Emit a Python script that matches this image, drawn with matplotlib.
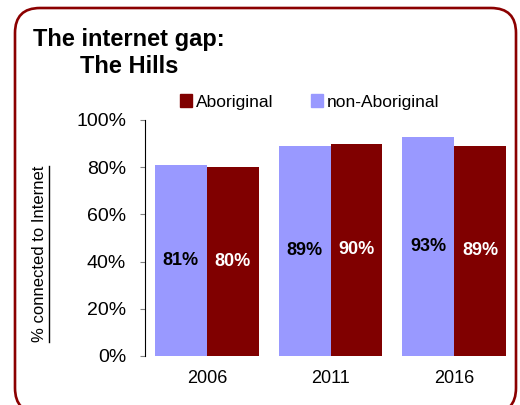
import matplotlib
matplotlib.use("Agg")
import matplotlib.pyplot as plt
from matplotlib.patches import Patch, FancyBboxPatch
from matplotlib.lines import Line2D
from matplotlib.transforms import IdentityTransform
from matplotlib.ticker import FuncFormatter

plt.rcParams['font.family'] = ['Liberation Sans', 'DejaVu Sans']

# census years and share of households connected to the internet
years = ['2006', '2011', '2016']
non_aboriginal = [81, 89, 93]
aboriginal = [80, 90, 89]

lavender = '#9999FF'
maroon = '#800000'

fig = plt.figure(figsize=(5.2, 4.05), dpi=100)
ax = fig.add_axes([145 / 520, 1 - 356 / 405, 371 / 520, 236 / 405])

w = 0.42
xs = range(len(years))
b1 = ax.bar([x - w / 2 for x in xs], non_aboriginal, width=w, color=lavender)
b2 = ax.bar([x + w / 2 for x in xs], aboriginal, width=w, color=maroon)

ax.bar_label(b1, labels=[f'{v}%' for v in non_aboriginal], label_type='center',
             fontsize=13, fontweight='bold', color='black')
ax.bar_label(b2, labels=[f'{v}%' for v in aboriginal], label_type='center',
             fontsize=13, fontweight='bold', color='white')

ax.set_xlim(-0.5, len(years) - 0.5)
ax.set_ylim(0, 100)
ax.set_yticks([0, 20, 40, 60, 80, 100])
ax.yaxis.set_major_formatter(FuncFormatter(lambda v, p: f'{v:.0f}%'))
ax.set_xticks(list(xs))
ax.set_xticklabels(years)
ax.tick_params(axis='y', labelsize=14, length=3.6, pad=10, color='#808080')
ax.tick_params(axis='x', labelsize=13, length=0, pad=10)
for s in ['top', 'right', 'bottom']:
    ax.spines[s].set_visible(False)
ax.spines['left'].set_color('black')
ax.spines['left'].set_linewidth(0.8)

# title block
fig.text(33 / 520, 1 - 46 / 405, 'The internet gap:', fontsize=17,
         fontweight='bold', va='baseline', ha='left')
fig.text(80 / 520, 1 - 73 / 405, 'The Hills', fontsize=17,
         fontweight='bold', va='baseline', ha='left')

# legend above the plot
handles = [Patch(color=maroon, label='Aboriginal'),
           Patch(color=lavender, label='non-Aboriginal')]
fig.legend(handles=handles, loc='center left', bbox_to_anchor=(180 / 520, 1 - 102 / 405),
           ncol=2, frameon=False, fontsize=12.5, handlelength=0.7, handleheight=0.7,
           handletextpad=0.2, columnspacing=2.2, borderpad=0, borderaxespad=0)

# underlined y label
ylab = fig.text(40 / 520, 1 - 254 / 405, '% connected to Internet', rotation=90,
                fontsize=12, ha='center', va='center')
fig.canvas.draw()
bb = ylab.get_window_extent()
fig.add_artist(Line2D([bb.x1 + 1.5, bb.x1 + 1.5], [bb.y0, bb.y1], color='black',
                      linewidth=1.0, transform=IdentityTransform()))

# rounded frame around the chart, bottom edge runs past the canvas
frame = FancyBboxPatch((15, -8), 501, 405, boxstyle='round,pad=0,rounding_size=25',
                       fill=False, edgecolor='#8B0000', linewidth=1.9,
                       transform=IdentityTransform())
fig.add_artist(frame)

fig.savefig('out.png', dpi=100)
